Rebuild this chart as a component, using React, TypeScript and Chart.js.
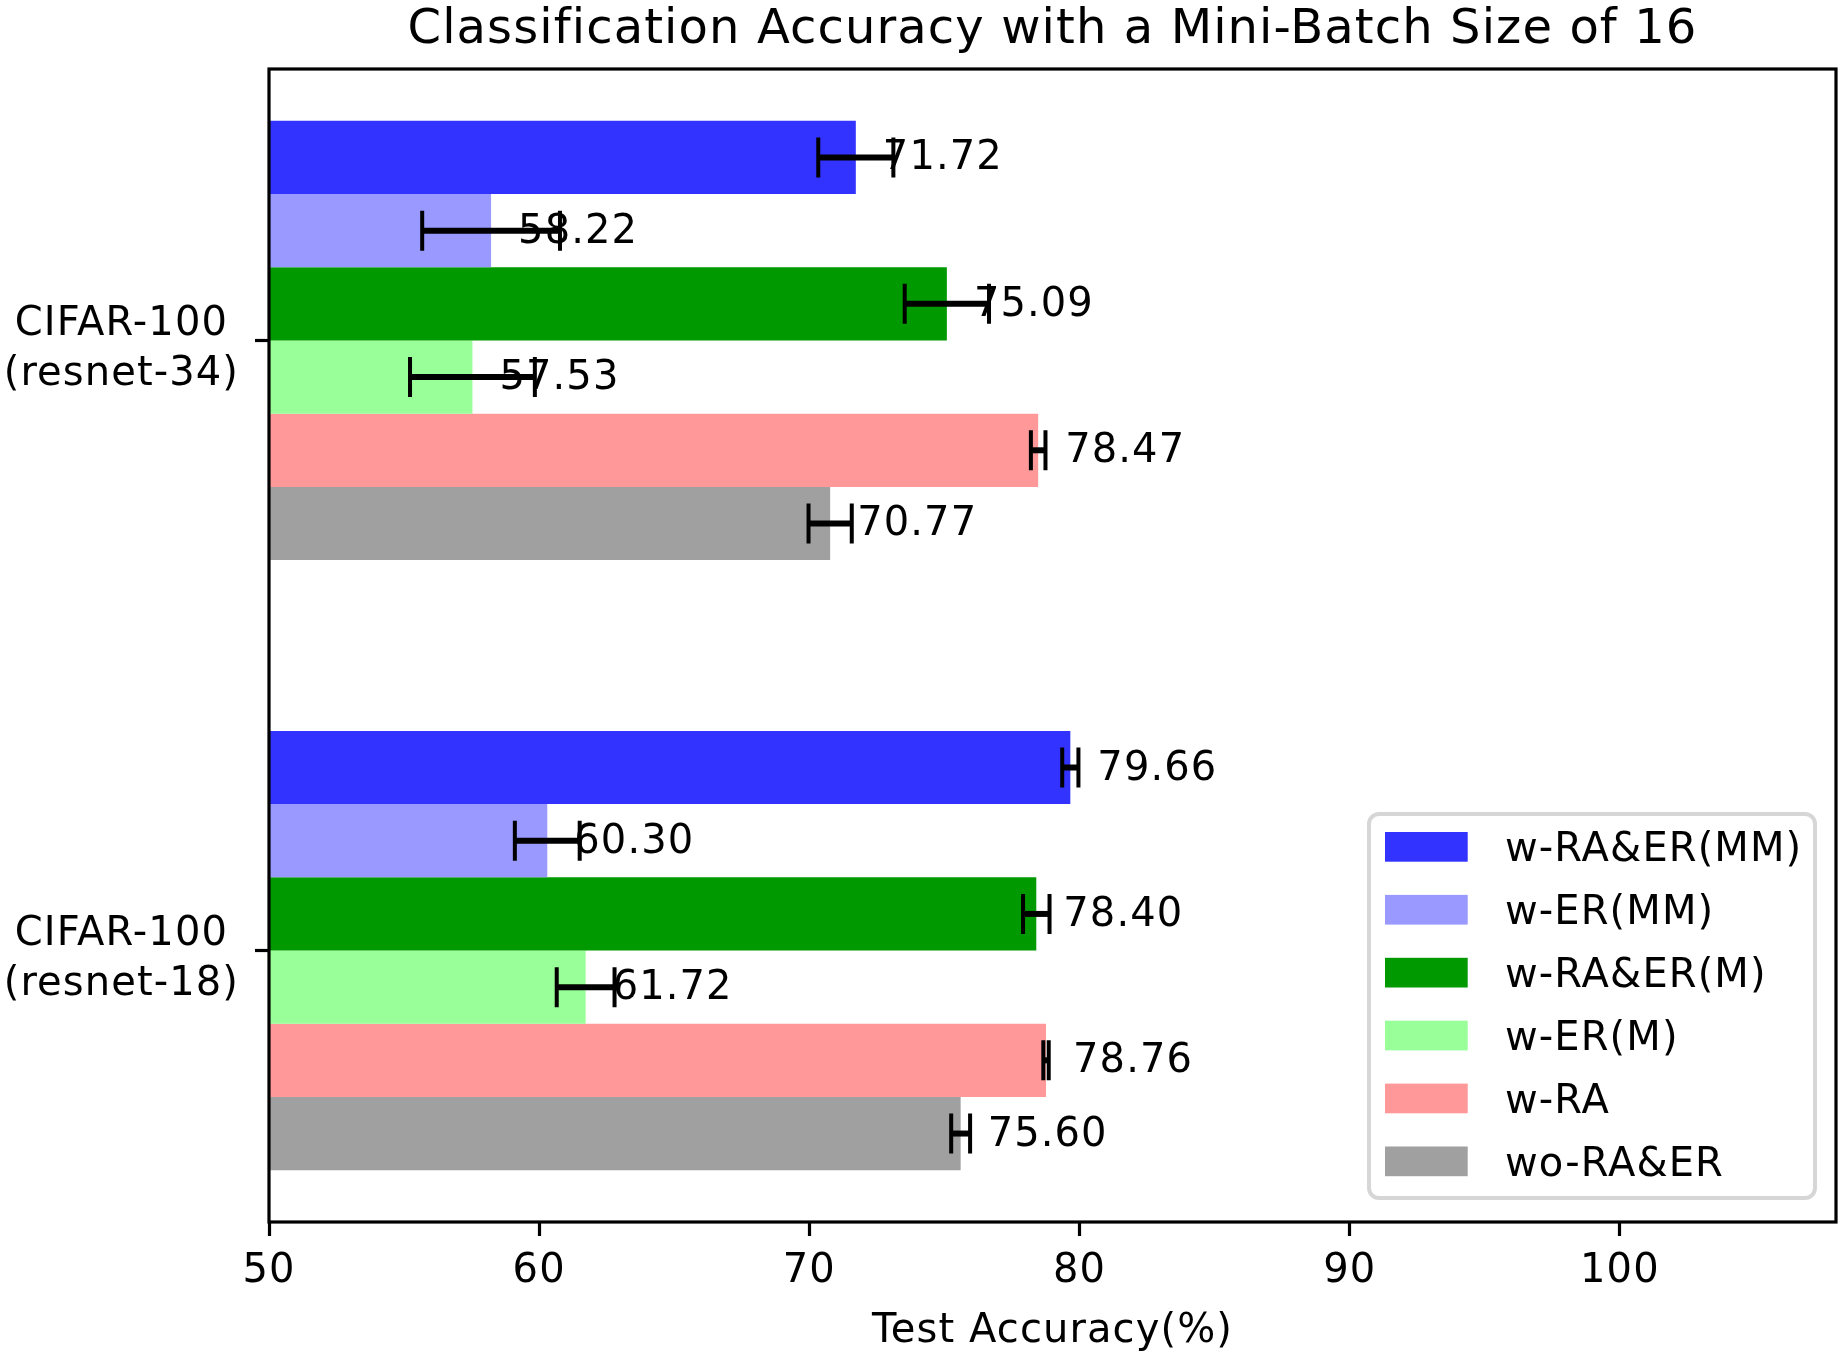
import React, { useEffect, useRef } from "react";
import { Chart, registerables } from "chart.js";

Chart.register(...registerables);

const FONT = "'DejaVu Sans', 'Liberation Sans', sans-serif";

const chartTitle = "Classification Accuracy with a Mini-Batch Size of 16";
const xTitle = "Test Accuracy(%)";

// categories (bottom to top)
const categories = ["CIFAR-100\n(resnet-18)", "CIFAR-100\n(resnet-34)"];
const categoryPositions = [0, 1];

const seriesLabels = ["w-RA&ER(MM)", "w-ER(MM)", "w-RA&ER(M)", "w-ER(M)", "w-RA", "wo-RA&ER"];
const seriesColors = ["#3333ff", "#9999ff", "#009900", "#99ff99", "#ff9999", "#a0a0a0"];

// values: [resnet-18, resnet-34]
const wRAERMM = [79.66, 71.72];
const wERMM = [60.3, 58.22];
const wRAERM = [78.4, 75.09];
const wERM = [61.72, 57.53];
const wRA = [78.76, 78.47];
const woRAER = [75.6, 70.77];

// error (half-width): [resnet-18, resnet-34]
const errRAERMM = [0.3, 1.39];
const errERMM = [1.2, 2.55];
const errRAERM = [0.49, 1.56];
const errERM = [1.07, 2.31];
const errRA = [0.1, 0.27];
const errWoRAER = [0.35, 0.8];

const xTicks = [50, 60, 70, 80, 90, 100];
const xMin = 50;
const xMax = 108;

const seriesValues = [wRAERMM, wERMM, wRAERM, wERM, wRA, woRAER];
const seriesErrors = [errRAERMM, errERMM, errRAERM, errERM, errRA, errWoRAER];

const SPACING = "1.1px";

const overlayPlugin = {
  id: "overlay",
  beforeUpdate(chart: any) {
    (chart.ctx as any).letterSpacing = SPACING;
  },
  beforeDraw(chart: any) {
    (chart.ctx as any).letterSpacing = SPACING;
  },
  afterDatasetsDraw(chart: any) {
    const ctx = chart.ctx as CanvasRenderingContext2D;
    const xs = chart.scales.x;
    ctx.save();
    chart.data.datasets.forEach((_ds: any, d: number) => {
      const meta = chart.getDatasetMeta(d);
      const vals = seriesValues[d];
      const errs = seriesErrors[d];
      meta.data.forEach((bar: any, i: number) => {
        const y = bar.y;
        const x1 = xs.getPixelForValue(vals[i] - errs[i]);
        const x2 = xs.getPixelForValue(vals[i] + errs[i]);
        ctx.strokeStyle = "#000";
        ctx.lineCap = "butt";
        ctx.lineWidth = 6;
        ctx.beginPath();
        ctx.moveTo(x1, y);
        ctx.lineTo(x2, y);
        ctx.stroke();
        ctx.lineWidth = 4;
        ctx.beginPath();
        ctx.moveTo(x1, y - 20);
        ctx.lineTo(x1, y + 20);
        ctx.moveTo(x2, y - 20);
        ctx.lineTo(x2, y + 20);
        ctx.stroke();
      });
    });
    ctx.font = `40px ${FONT}`;
    (ctx as any).letterSpacing = SPACING;
    ctx.fillStyle = "#000";
    ctx.textAlign = "left";
    ctx.textBaseline = "alphabetic";
    chart.data.datasets.forEach((_ds: any, d: number) => {
      const meta = chart.getDatasetMeta(d);
      const vals = seriesValues[d];
      meta.data.forEach((bar: any, i: number) => {
        ctx.fillText(vals[i].toFixed(2), xs.getPixelForValue(vals[i] + 1), bar.y + 12);
      });
    });
    ctx.restore();
  },
  afterDraw(chart: any) {
    const ctx = chart.ctx as CanvasRenderingContext2D;
    const ca = chart.chartArea;
    ctx.save();
    (ctx as any).letterSpacing = SPACING;
    // spines
    ctx.strokeStyle = "#000";
    ctx.lineWidth = 3.2;
    ctx.strokeRect(ca.left, ca.top, ca.right - ca.left, ca.bottom - ca.top);

    // title
    ctx.fillStyle = "#000";
    ctx.font = `48px ${FONT}`;
    ctx.textAlign = "center";
    ctx.textBaseline = "alphabetic";
    ctx.fillText(chartTitle, (ca.left + ca.right) / 2, ca.top - 26);

    // legend
    const fx = ca.right - 467;
    const fy = ca.bottom - 408;
    const fw = 446;
    const fh = 384;
    const r = 10;
    ctx.beginPath();
    ctx.moveTo(fx + r, fy);
    ctx.lineTo(fx + fw - r, fy);
    ctx.arcTo(fx + fw, fy, fx + fw, fy + r, r);
    ctx.lineTo(fx + fw, fy + fh - r);
    ctx.arcTo(fx + fw, fy + fh, fx + fw - r, fy + fh, r);
    ctx.lineTo(fx + r, fy + fh);
    ctx.arcTo(fx, fy + fh, fx, fy + fh - r, r);
    ctx.lineTo(fx, fy + r);
    ctx.arcTo(fx, fy, fx + r, fy, r);
    ctx.closePath();
    ctx.fillStyle = "rgba(255,255,255,0.8)";
    ctx.fill();
    ctx.strokeStyle = "rgba(204,204,204,0.8)";
    ctx.lineWidth = 4;
    ctx.stroke();

    ctx.font = `40px ${FONT}`;
    ctx.textAlign = "left";
    ctx.textBaseline = "alphabetic";
    seriesLabels.forEach((lab, i) => {
      const cy = fy + 32.8 + i * 62.9;
      ctx.fillStyle = seriesColors[i];
      ctx.fillRect(fx + 16, cy - 14.8, 82.7, 29.7);
      ctx.fillStyle = "#000";
      ctx.fillText(lab, fx + 136, cy + 14.5);
    });
    ctx.restore();
  },
};

export default function App() {
  const ref = useRef<HTMLCanvasElement>(null);
  useEffect(() => {
    if (!ref.current) return;
    const datasets = seriesLabels.map((lab, d) => ({
      label: lab,
      data: categoryPositions.map((p, i) => ({ x: seriesValues[d][i], y: p })),
      backgroundColor: seriesColors[d],
      borderWidth: 0,
      categoryPercentage: 0.72,
      barPercentage: 1,
    }));
    const gridOpts = {
      drawOnChartArea: false,
      drawTicks: true,
      tickLength: 14,
      tickWidth: 3.2,
      tickColor: "#000",
      offset: false,
    };
    const chart = new Chart(ref.current, {
      type: "bar",
      data: { datasets },
      options: {
        animation: false,
        responsive: false,
        devicePixelRatio: 1,
        indexAxis: "y",
        layout: { padding: { top: 69, right: 6, left: 0, bottom: 0 } },
        plugins: {
          legend: { display: false },
          tooltip: { enabled: false },
          title: { display: false },
        },
        scales: {
          x: {
            type: "linear",
            position: "bottom",
            min: xMin,
            max: xMax,
            afterFit: (s: any) => {
              s.height = 136;
            },
            afterBuildTicks: (s: any) => {
              s.ticks = xTicks.map((v) => ({ value: v }));
            },
            ticks: {
              font: { size: 40, family: FONT },
              color: "#000",
              padding: 12,
              maxRotation: 0,
              autoSkip: false,
              callback: (v: any) => String(v),
            },
            grid: gridOpts,
            border: { display: false },
            title: {
              display: true,
              text: xTitle,
              color: "#000",
              font: { size: 40, family: FONT, lineHeight: 1.2 },
              padding: { top: 0, bottom: 2 },
            },
          },
          y: {
            type: "linear",
            position: "left",
            min: -0.445,
            max: 1.445,
            offset: false,
            afterFit: (s: any) => {
              s.width = 269;
            },
            afterBuildTicks: (s: any) => {
              s.ticks = categoryPositions.map((v) => ({ value: v }));
            },
            ticks: {
              font: { size: 40, family: FONT, lineHeight: 1.25 },
              color: "#000",
              padding: 16,
              crossAlign: "center",
              labelOffset: 9.5,
              autoSkip: false,
              callback: (v: any) => {
                const idx = categoryPositions.indexOf(Number(v));
                return idx >= 0 ? categories[idx].split("\n") : "";
              },
            },
            grid: gridOpts,
            border: { display: false },
          },
        },
      } as any,
      plugins: [overlayPlugin],
    } as any);
    return () => chart.destroy();
  }, []);
  return (
    <div style={{ position: "absolute", left: 0, top: 0, width: 1842, height: 1358, background: "#fff" }}>
      <canvas ref={ref} width={1842} height={1358} style={{ display: "block", width: 1842, height: 1358 }} />
    </div>
  );
}
